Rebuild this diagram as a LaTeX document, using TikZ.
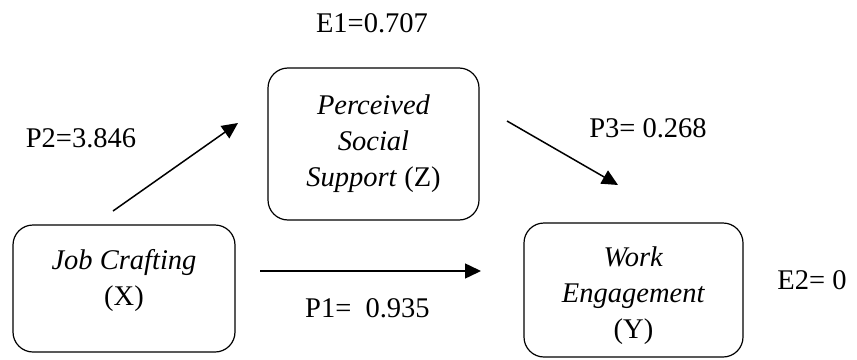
\documentclass[tikz,border=0pt]{standalone}
\usepackage{fontspec}
\setmainfont{Liberation Serif}
\usetikzlibrary{arrows.meta}
\begin{document}
\begin{tikzpicture}[x=1pt,y=-1pt,
  box/.style={draw,line width=1.2pt,rounded corners=20pt,inner sep=0pt},
  txt/.style={align=center,font=\fontsize{28.5}{36}\selectfont,inner sep=0pt},
  lbl/.style={font=\fontsize{28.5}{34}\selectfont,inner sep=0pt},
  arr/.style={line width=1.5pt,-{Triangle[length=16pt,width=15pt]}}]
\useasboundingbox[fill=white] (0,0) rectangle (857,359);
% boxes
\node[box,minimum width=211pt,minimum height=152pt] (Z) at (373.5,144) {};
\node[box,minimum width=222pt,minimum height=127pt] (X) at (124,288.5) {};
\node[box,minimum width=219pt,minimum height=134pt] (Y) at (633.5,290) {};
% box texts
\node[txt] (Zt) at (373.5,144) {\textit{Perceived}\\\textit{Social}\\\textit{Support} (Z)};
\node[txt] (Xt) at (124,280) {\textit{Job Crafting}\\(X)};
\node[txt] (Yt) at (633.5,296) {\textit{Work}\\\textit{Engagement}\\(Y)};
% labels
\node[lbl] (E1) at (372,23) {E1=0.707};
\node[lbl] (P2) at (81,138) {P2=3.846};
\node[lbl] (P3) at (648,128) {P3= 0.268};
\node[lbl,anchor=west] (P1) at (305,308) {P1=\ \ 0.935};
\node[lbl] (E2) at (812,280) {E2= 0};
% arrow end points
\coordinate (a1) at (113,211);
\coordinate (a2) at (238,123);
\coordinate (b1) at (507,121);
\coordinate (b2) at (618,185);
\coordinate (c1) at (260,271);
\coordinate (c2) at (481,271);
\draw[arr] (a1) -- (a2);
\draw[arr] (b1) -- (b2);
\draw[arr] (c1) -- (c2);
\end{tikzpicture}
\end{document}
